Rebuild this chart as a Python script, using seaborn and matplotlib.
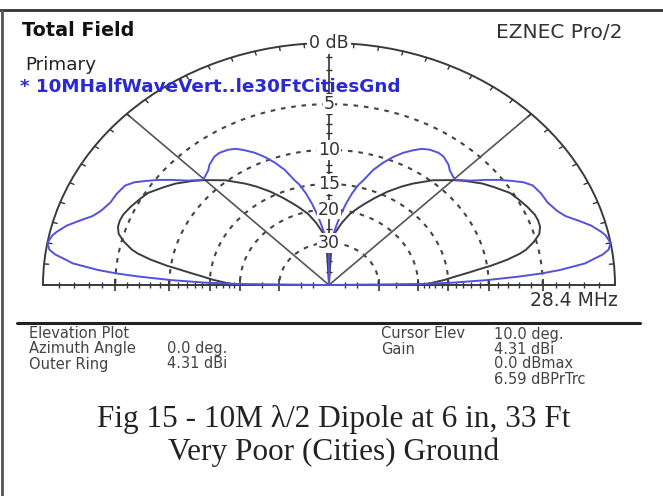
import numpy as np
import matplotlib
matplotlib.use("Agg")
import matplotlib.pyplot as plt
import seaborn as sns

# ---------------- data (elevation angle in deg, gain in dB relative to outer ring) -------------
elev_blue = [0, 0.3, 0.7, 1.3, 2.1, 3.0, 3.7, 4.4, 5.7, 6.5, 7.5, 8.5, 10, 12, 13, 15,
             17, 19, 21, 24, 27, 30, 32, 34, 36, 38.3, 41, 44.5, 46, 48.3, 50, 53, 55,
             57.7, 60, 62, 64.5, 67, 69.5, 72, 74.4, 76, 78, 80, 82, 84, 86, 88, 89.5, 90]
db_blue = [-99, -26, -19.7, -14.3, -10.2, -7.0, -5.0, -3.6, -1.8, -1.3, -0.6, -0.2, 0.0,
           -0.2, -0.4, -0.9, -1.6, -2.3, -2.7, -3.05, -3.15, -3.35, -3.8, -4.5, -5.2,
           -6.1, -7.2, -8.2, -8.1, -7.8, -7.4, -7.0, -6.95, -7.1, -7.4, -7.9, -8.6,
           -9.5, -10.6, -11.9, -13.7, -14.6, -16.3, -18.5, -21, -24, -27, -31, -34, -99]

elev_black = [0, 0.5, 1, 2.1, 3, 4.5, 6, 7, 8, 9.5, 11, 12, 14, 16, 18, 20, 22, 25, 28,
              31, 35, 38, 42, 45, 50, 55, 58, 62, 66, 70, 72, 76, 80, 84, 87, 90]
db_black = [-99, -19, -18, -16.7, -15.5, -14.0, -12.2, -11.0, -9.6, -7.9, -6.6, -6.0,
            -5.2, -4.6, -4.35, -4.3, -4.35, -4.6, -4.9, -5.2, -6.0, -6.6, -7.6, -8.4,
            -9.8, -11.5, -12.6, -14.2, -16.0, -17.8, -18.7, -20.5, -23, -26, -30, -99]

ring_db = [-5, -10, -15, -20, -30]
ring_labels = ["5", "10", "15", "20", "30"]
minor_db = [-1, -2, -3, -4, -6, -7, -8, -9, -11, -12, -13, -14, -16, -17, -18, -19,
            -25, -40, -50]

header_left = "Total Field"
header_right = "EZNEC Pro/2"
primary_txt = "Primary"
trace_name = "* 10MHalfWaveVert..le30FtCitiesGnd"
freq_txt = "28.4 MHz"
info_left = [("Elevation Plot", ""), ("Azimuth Angle", "0.0 deg."), ("Outer Ring", "4.31 dBi")]
info_right = [("Cursor Elev", "10.0 deg."), ("Gain", "4.31 dBi"), ("", "0.0 dBmax"),
              ("", "6.59 dBPrTrc")]
caption1 = "Fig 15 - 10M \u03bb/2 Dipole at 6 in, 33 Ft"
caption2 = "Very Poor (Cities) Ground"


def arrl(db):
    """ARRL log scale radius (0.89 per 2 dB)."""
    return 0.89 ** (-np.asarray(db, dtype=float) / 2.0)


def mirrored(elev, db):
    e = np.radians(np.asarray(elev, dtype=float))
    r = arrl(db)
    theta = np.concatenate([e, np.pi - e[::-1]])
    rr = np.concatenate([r, r[::-1]])
    return theta, rr


sns.set_theme(style="white")
plt.rcParams["font.family"] = ["DejaVu Sans"]

W, H = 663, 496
fig = plt.figure(figsize=(W / 100, H / 100), dpi=100)
fig.patch.set_facecolor("white")

cx, cy, Rx, Ry = 329, 285, 286, 242
# the half-disc wedge is centred in the axes box at half its height
box_h = 2 * Ry
box_top = (cy - Ry / 2) - box_h / 2
ax = fig.add_axes([(cx - Rx) / W, (H - (box_top + box_h)) / H, 2 * Rx / W, box_h / H],
                  projection="polar")
ax.set_thetamin(0)
ax.set_thetamax(180)
ax.set_aspect("auto")
ax.set_ylim(0, 1)
ax.set_xticks([])
ax.set_yticks([])
ax.grid(False)
ax.set_facecolor("white")
for name, sp in ax.spines.items():
    sp.set_color("#3a3a3a")
    sp.set_linewidth(1.4)
ax.spines["inner"].set_visible(False)

grid_col = "#444444"
# dashed rings
for d in ring_db:
    th = np.linspace(0, np.pi, 300)
    ax.plot(th, np.full_like(th, arrl(d)), color=grid_col, lw=1.5,
            dashes=(2.2, 2.8), zorder=1)
# diagonals
for a in (45, 135):
    ax.plot([np.radians(a)] * 2, [0, 1], color="#555555", lw=1.2, zorder=1)
# vertical axis
ax.plot([np.pi / 2] * 2, [0, 1], color="#333333", lw=1.2, zorder=1)
# outer ring ticks every 5 deg
for a in range(5, 180, 5):
    ax.plot([np.radians(a)] * 2, [0.984, 1.0], color="#333333", lw=1.0, zorder=1)
# baseline & axis ticks
for d in ring_db:
    ax.plot([0, np.pi], [arrl(d)] * 2, ls="none", marker="|", ms=8, mew=1.2,
            color="#333333", zorder=2, clip_on=False)
for d in minor_db:
    ax.plot([0, np.pi], [arrl(d)] * 2, ls="none", marker="|", ms=4, mew=1.0,
            color="#333333", zorder=2, clip_on=False)
for d in ring_db + minor_db:
    ax.plot([np.pi / 2], [arrl(d)], ls="none", marker="_", ms=5, mew=1.0,
            color="#333333", zorder=2)

# traces
tb, rb = mirrored(elev_black, db_black)
sns.lineplot(x=tb, y=rb, ax=ax, sort=False, estimator=None, color="#3c3c3c", lw=1.4,
             zorder=3)
tbl, rbl = mirrored(elev_blue, db_blue)
sns.lineplot(x=tbl, y=rbl, ax=ax, sort=False, estimator=None, color="#5252dc", lw=1.4,
             zorder=4)
for ln in ax.lines:
    ln.set_clip_on(False)
ax.set_xlabel("")
ax.set_ylabel("")

# ring labels
for d, lab in zip(ring_db, ring_labels):
    ax.text(np.pi / 2, arrl(d), lab, ha="center", va="center", fontsize=12.5,
            color="#333333", zorder=5,
            bbox=dict(boxstyle="square,pad=0.05", fc="white", ec="none"))
ax.text(np.pi / 2, 1.0, "0 dB", ha="center", va="center", fontsize=12.5,
        color="#333333", zorder=5,
        bbox=dict(boxstyle="square,pad=0.1", fc="white", ec="none"))


def ftext(x, y, s, **kw):
    fig.text(x / W, 1 - y / H, s, **kw)


ftext(22, 31, header_left, fontsize=13.8, fontweight="bold", color="#111111", va="center")
ftext(622, 32, header_right, fontsize=14.5, color="#333333", va="center", ha="right")
ftext(25, 65, primary_txt, fontsize=13.2, color="#222222", va="center")
ftext(20, 87, trace_name, fontsize=13.2, fontweight="bold", color="#2a2ad2", va="center")
ftext(618, 301, freq_txt, fontsize=13.5, color="#333333", va="center", ha="right")

ys = [334, 349, 364, 379]
for (lab, val), y in zip(info_left, ys):
    ftext(29, y, lab, fontsize=10.5, color="#444444", va="center")
    if val:
        ftext(167, y, val, fontsize=10.5, color="#444444", va="center")
for (lab, val), y in zip(info_right, ys):
    if lab:
        ftext(381, y, lab, fontsize=10.5, color="#444444", va="center")
    ftext(494, y, val, fontsize=10.5, color="#444444", va="center")

ftext(334, 420, caption1, fontsize=22.5, family="Liberation Serif", color="#222222",
      ha="center", va="center")
ftext(334, 452, caption2, fontsize=22.5, family="Liberation Serif", color="#222222",
      ha="center", va="center")

# frame lines
fig.add_artist(plt.Line2D([17 / W, 640 / W], [1 - 323 / H] * 2, color="#222222", lw=2.2))
fig.add_artist(plt.Line2D([0, 1], [1 - 10 / H] * 2, color="#333333", lw=2.0))
fig.add_artist(plt.Line2D([1.5 / W] * 2, [0, 1 - 10 / H], color="#555555", lw=2.0))

fig.savefig("out.png", dpi=100, facecolor="white")
